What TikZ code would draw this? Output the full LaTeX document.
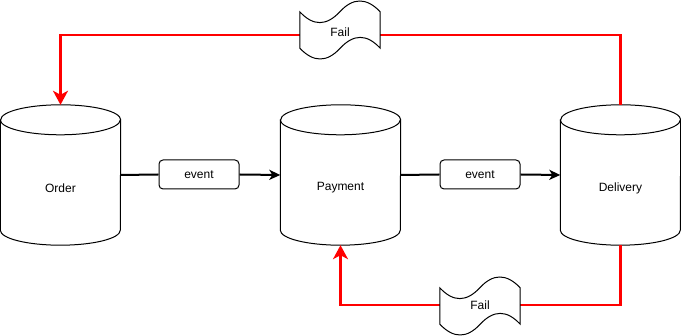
\documentclass[tikz,border=0pt]{standalone}
\usepackage{fontspec}
\setmainfont{Liberation Sans}
\usetikzlibrary{arrows.meta}
\tikzset{
  cylbox/.style={rectangle, draw=none, minimum width=120pt, minimum height=140pt, inner sep=0pt},
  cylline/.style={draw=black, line width=1pt, fill=white},
  lbl/.style={inner sep=0pt, font=\fontsize{12pt}{14pt}\selectfont},
  evbox/.style={draw=black, line width=1pt, fill=white, rounded corners=4pt, minimum width=80pt, minimum height=29pt, inner sep=0pt, font=\fontsize{12pt}{14pt}\selectfont},
  blk/.style={draw=black, line width=2pt},
  blkarrow/.style={blk, -{Stealth[length=11pt, width=10pt, inset=3pt]}},
  redline/.style={draw=red, line width=2.2pt},
  redarrow/.style={redline, -{Stealth[length=14pt, width=15pt, inset=4pt]}},
  tapebox/.style={rectangle, draw=none, minimum width=80pt, minimum height=60pt, inner sep=0pt}
}
\newcommand\mycylinder[1]{%
  \draw[cylline] ([yshift=-15pt]#1.north west) -- ([yshift=15pt]#1.south west)
     arc[start angle=180, end angle=360, x radius=60pt, y radius=15pt]
     -- ([yshift=-15pt]#1.north east)
     arc[start angle=0, end angle=180, x radius=60pt, y radius=15pt] -- cycle;
  \draw[cylline, fill=none] ([yshift=-15pt]#1.north west)
     arc[start angle=180, end angle=360, x radius=60pt, y radius=15pt];
}
\newcommand\mytape[1]{%
  \draw[cylline] ([yshift=12pt]#1.south west) -- ([yshift=-12pt]#1.north west)
    .. controls ([xshift=13.33pt,yshift=-26.4pt]#1.north west) and ([xshift=26.67pt,yshift=-26.4pt]#1.north west) .. ([xshift=40pt,yshift=-12pt]#1.north west)
    .. controls ([xshift=53.33pt,yshift=2.4pt]#1.north west) and ([xshift=66.67pt,yshift=2.4pt]#1.north west) .. ([yshift=-12pt]#1.north east)
    -- ([yshift=12pt]#1.south east)
    .. controls ([xshift=-13.33pt,yshift=26.4pt]#1.south east) and ([xshift=-26.67pt,yshift=26.4pt]#1.south east) .. ([xshift=-40pt,yshift=12pt]#1.south east)
    .. controls ([xshift=-53.33pt,yshift=-2.4pt]#1.south east) and ([xshift=-66.67pt,yshift=-2.4pt]#1.south east) .. ([yshift=12pt]#1.south west) -- cycle;
}
\begin{document}
\begin{tikzpicture}[x=1pt, y=1pt]
\useasboundingbox (0,0) rectangle (681,336);
% cylinders
\node[cylbox] (order) at (60.5,161) {};
\node[cylbox] (payment) at (340.5,161) {};
\node[cylbox] (delivery) at (620.5,161) {};
\mycylinder{order}
\mycylinder{payment}
\mycylinder{delivery}
\node[lbl] (orderlbl) at (60.5,148) {Order};
\node[lbl] (paymentlbl) at (340.5,148) {Payment};
\node[lbl] (deliverylbl) at (620.5,148) {Delivery};
% event boxes
\node[evbox] (ev1) at (199,161.5) {event};
\node[evbox] (ev2) at (480,161.5) {event};
\draw[blk] (order.east) -- (ev1.west);
\draw[blkarrow] (ev1.east) -- (payment.west);
\draw[blk] (payment.east) -- (ev2.west);
\draw[blkarrow] (ev2.east) -- (delivery.west);
% fail tapes
\node[tapebox] (tapetop) at (340,306) {};
\node[tapebox] (tapebot) at (480,30) {};
\coordinate (tr) at (620.5,301);
\coordinate (tl) at (60.5,301);
\coordinate (br) at (620.5,31);
\coordinate (bl) at (340.5,31);
\draw[redline] (delivery.north) -- (tr) -- (tapetop.east |- tr);
\draw[redarrow] (tapetop.west |- tl) -- (tl) -- (order.north);
\draw[redline] (delivery.south) -- (br) -- (tapebot.east |- br);
\draw[redarrow] (tapebot.west |- bl) -- (bl) -- (payment.south);
\mytape{tapetop}
\mytape{tapebot}
\node[lbl] (failtop) at (340,304) {Fail};
\node[lbl] (failbot) at (480,31) {Fail};
\end{tikzpicture}
\end{document}
